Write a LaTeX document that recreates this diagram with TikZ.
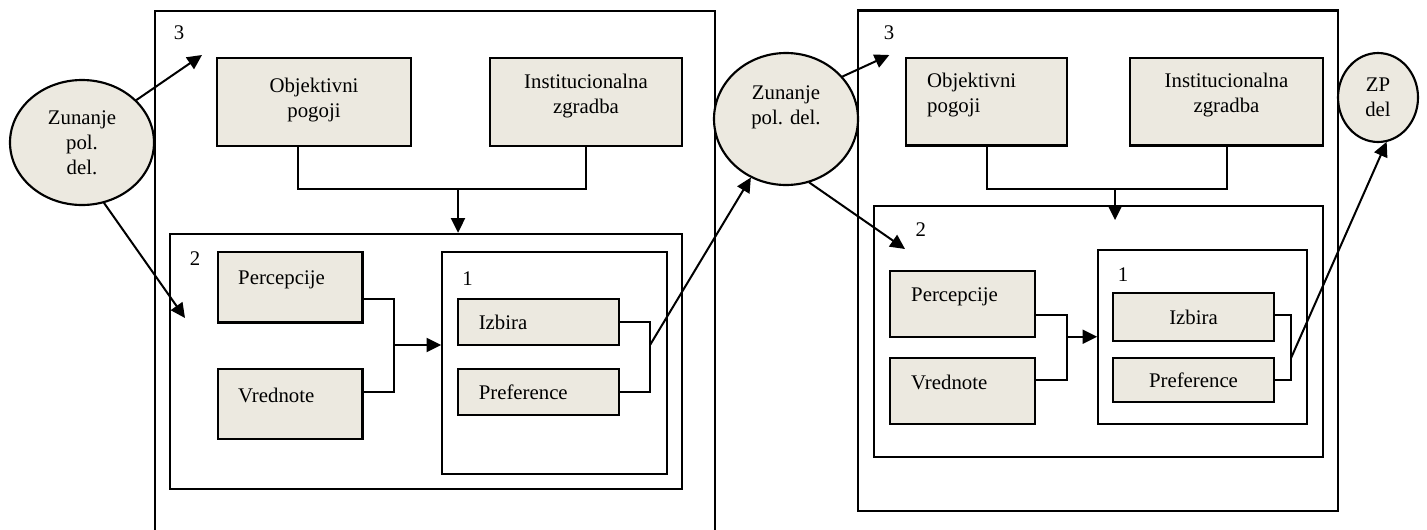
\documentclass[tikz,border=0pt]{standalone}
\usepackage{fontspec}
\setmainfont{Liberation Serif}
\usetikzlibrary{shapes.geometric, arrows.meta, positioning}
\definecolor{boxfill}{RGB}{236,233,224}

\begin{document}
\begin{tikzpicture}[
    x=1pt, y=-1pt,
    scale=0.75,
    transform shape,
    font=\fontsize{20.8}{25}\selectfont,
    frame/.style={draw, rectangle, line width=1.6pt, inner sep=0pt},
    factor/.style={draw, rectangle, line width=1.6pt, fill=boxfill, inner sep=0pt},
    actor/.style={draw, ellipse, line width=1.6pt, fill=boxfill, inner sep=0pt, align=center},
    txt/.style={inner sep=0pt, align=center},
    link/.style={line width=1.5pt},
    arrow/.style={-{Triangle[length=11pt, width=10.5pt]}, line width=1.5pt},
]
\useasboundingbox (0,0) rectangle (1427,529);

% Left model: levels
\node[frame, anchor=north west, minimum width=560.5pt, minimum height=540pt] (lvl3L) at (154,10.5) {};
\node[frame, minimum width=512.4pt, minimum height=255pt] (lvl2L) at (425.8,361.1) {};
\node[frame, minimum width=225pt, minimum height=222pt] (lvl1L) at (554.5,363) {};
\node[txt] (n3L) at (179,33) {3};
\node[txt] (n2L) at (195,259) {2};
\node[txt] (n1L) at (467.5,279) {1};

% Left model: factors
\node[factor, minimum width=194pt, minimum height=88pt] (objL) at (314,102) {};
\node[txt] (objLtxt) at (314,100) {Objektivni\\pogoji};
\node[factor, minimum width=192pt, minimum height=88pt] (instL) at (586,102) {};
\node[txt] (instLtxt) at (586,96) {Institucionalna\\zgradba};
\node[factor, minimum width=144.5pt, minimum height=70.5pt] (percL) at (290.25,287.25) {};
\node[txt, anchor=west] (percLtxt) at (238,280) {Percepcije};
\node[factor, minimum width=144.5pt, minimum height=69.6pt] (vredL) at (290.25,403.8) {};
\node[txt, anchor=west] (vredLtxt) at (238,395) {Vrednote};
\node[factor, minimum width=160.6pt, minimum height=46.4pt] (izbL) at (538.3,321.8) {};
\node[txt, anchor=west] (izbLtxt) at (478.6,322) {Izbira};
\node[factor, minimum width=160.6pt, minimum height=46pt] (prefL) at (538.3,392) {};
\node[txt, anchor=west] (prefLtxt) at (478.6,392) {Preference};

% Actors
\node[actor, minimum width=144pt, minimum height=125pt] (ellL) at (82,142.5) {Zunanje\\pol.\\del.};
\node[actor, minimum width=144pt, minimum height=132pt] (ellM) at (786,119) {};
\node[txt] (ellMtxt) at (786,107) {Zunanje\\pol. del.};

% Right model: levels
\node[frame, minimum width=480pt, minimum height=500.2pt] (lvl3R) at (1098,260.6) {};
\node[frame, minimum width=448.7pt, minimum height=250.7pt] (lvl2R) at (1098.35,331.35) {};
\node[frame, minimum width=208.7pt, minimum height=174pt] (lvl1R) at (1202.35,337) {};
\node[txt] (n3R) at (889,33) {3};
\node[txt] (n2R) at (920.7,230) {2};
\node[txt] (n1R) at (1123,275) {1};

% Right model: factors
\node[factor, minimum width=161pt, minimum height=87.5pt] (objR) at (986.5,101.75) {};
\node[txt, anchor=west, align=left] (objRtxt) at (927,95) {Objektivni\\pogoji};
\node[factor, minimum width=193pt, minimum height=87.5pt] (instR) at (1226.5,101.75) {};
\node[txt] (instRtxt) at (1226.5,95) {Institucionalna\\zgradba};
\node[factor, minimum width=145pt, minimum height=65.7pt] (percR) at (962.5,303.85) {};
\node[txt, anchor=west] (percRtxt) at (911,297) {Percepcije};
\node[factor, minimum width=145pt, minimum height=66pt] (vredR) at (962.5,391) {};
\node[txt, anchor=west] (vredRtxt) at (911,382) {Vrednote};
\node[factor, minimum width=161pt, minimum height=48pt] (izbR) at (1193.5,317) {Izbira};
\node[factor, minimum width=161pt, minimum height=43.7pt] (prefR) at (1193.5,379.85) {Preference};
\node[actor, minimum width=80pt, minimum height=89pt] (ellZP) at (1378,97.5) {ZP\\del};

% Connector points
\coordinate (busL) at (458,189);
\coordinate (mergeL) at (394,345);
\coordinate (outL) at (650,345);
\coordinate (tip3L) at (202,55);
\coordinate (tip2L) at (185,318);
\coordinate (busR) at (1115,189);
\coordinate (tipBR) at (1115,220);
\coordinate (mergeR) at (1066.7,336.7);
\coordinate (outR) at (1291,358);
\coordinate (tip3R) at (889.3,55);
\coordinate (tip2R) at (905,249);

% Arrows, left
\draw[arrow] (ellL.38) -- (tip3L);
\draw[arrow] (ellL.-70) -- (tip2L);
\draw[link] (298,0 |- objL.south) |- (busL) -| (instL.south);
\draw[arrow] (busL) -- (busL |- lvl2L.north);
\draw[link] (percL.east |- 0,299) -| (mergeL) |- (vredL.east |- 0,392);
\draw[arrow] (mergeL) -- (mergeL -| lvl1L.west);
\draw[link] (izbL.east) -| (outL) |- (prefL.east);
\draw[arrow] (outL) -- (ellM.-121);

% Arrows, right
\draw[arrow] (ellM.37) -- (tip3R);
\draw[arrow] (ellM.-70) -- (tip2R);
\draw[link] (objR.south) |- (busR) -| (instR.south);
\draw[arrow] (busR) -- (tipBR);
\draw[link] (percR.east |- 0,315) -| (mergeR) |- (vredR.east |- 0,380);
\draw[arrow] (mergeR) -- (mergeR -| lvl1R.west);
\draw[link] (izbR.east |- 0,315) -| (outR) |- (prefR.east |- 0,380);
\draw[arrow] (outR) -- (ellZP.-79);

\end{tikzpicture}
\end{document}
